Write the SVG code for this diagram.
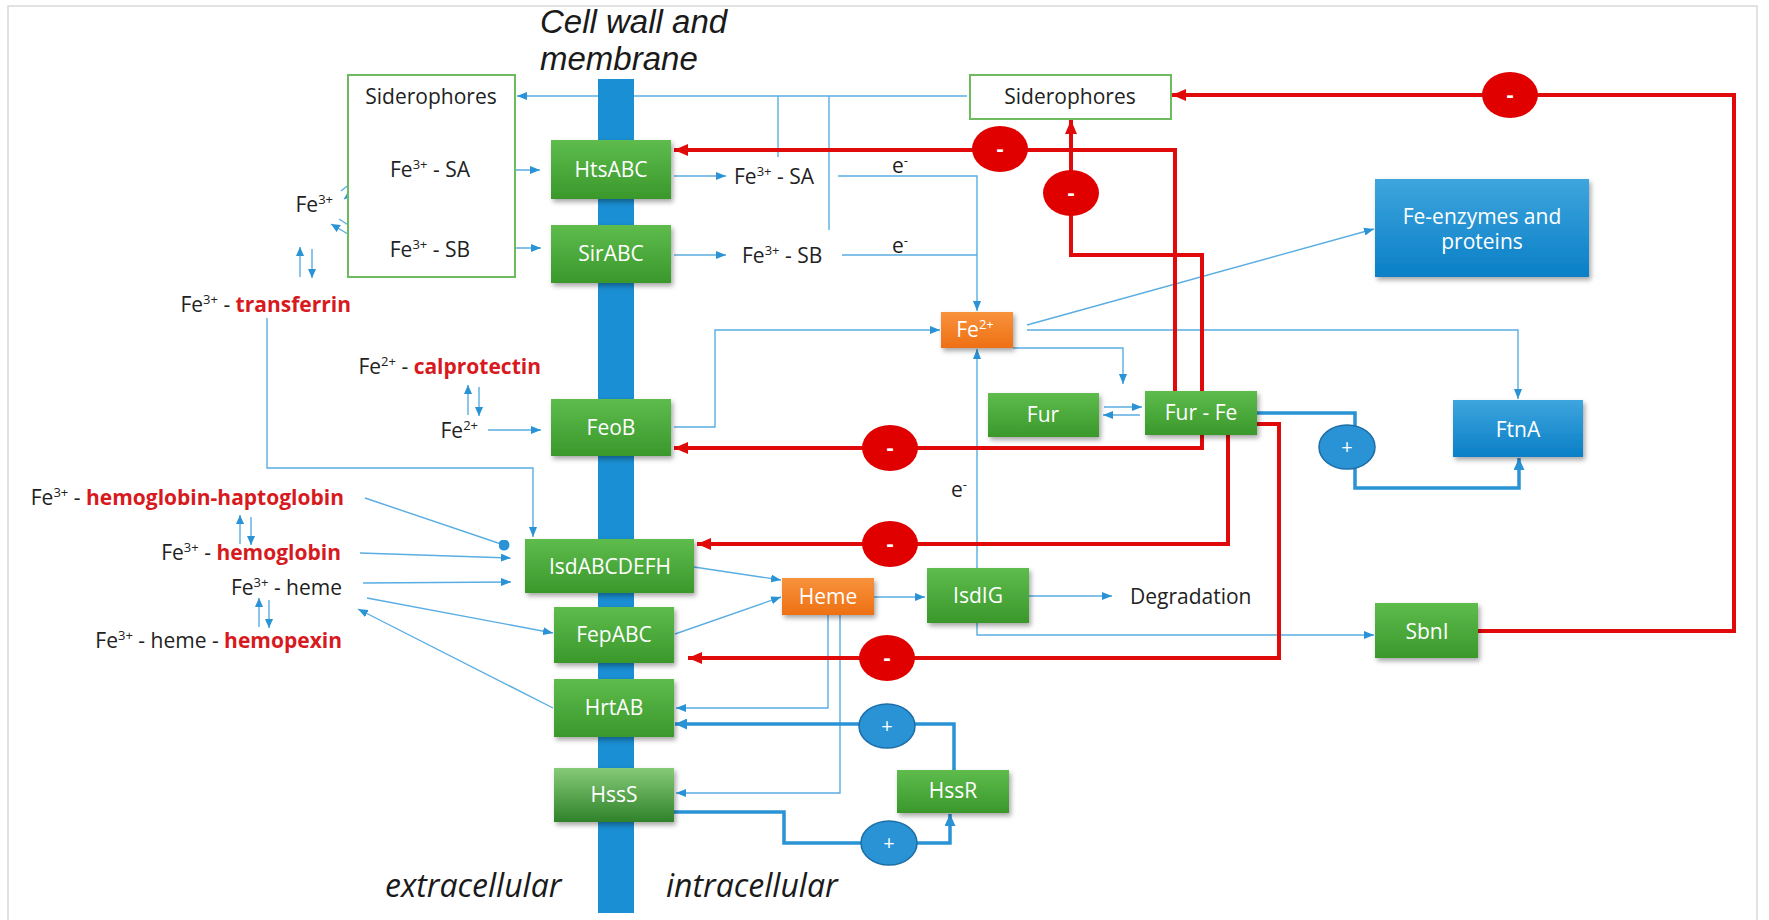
<svg xmlns="http://www.w3.org/2000/svg" width="1769" height="920" viewBox="0 0 1769 920">
<defs>
<style>
.t{font-family:"Open Sans","Liberation Sans",sans-serif;font-size:21px;fill:#222}
.r{fill:#D71920;font-weight:bold}
.w{fill:#fff;text-anchor:middle}
.e{text-anchor:end}
.m{text-anchor:middle}
.it{font-family:"Open Sans","Liberation Sans",sans-serif;font-style:italic;font-size:32px;fill:#1a1a1a}
.ti{font-family:"Liberation Sans",Arial,sans-serif;font-style:italic;font-size:33px;fill:#1a1a1a}
.thin{fill:none;stroke:#5AADE2;stroke-width:1.4}
.red{fill:none;stroke:#E00A0A;stroke-width:4}
.thick{fill:none;stroke:#2A93D5;stroke-width:3.5}
.minus{fill:#E00000}
.plus{fill:#2A93D5;stroke:#1C6EA6;stroke-width:1.5}
.sid{fill:#fff;stroke:#6DBB5E;stroke-width:2}
.sg{font-family:"Open Sans","Liberation Sans",sans-serif;font-size:22px;fill:#fff;text-anchor:middle;font-weight:bold}
</style>
<linearGradient id="gG" x1="0" y1="0" x2="0" y2="1"><stop offset="0" stop-color="#5EBC4D"/><stop offset="1" stop-color="#3A982B"/></linearGradient>
<linearGradient id="gGL" x1="0" y1="0" x2="0" y2="1"><stop offset="0" stop-color="#86CA78"/><stop offset="1" stop-color="#2F822A"/></linearGradient>
<linearGradient id="gO" x1="0" y1="0" x2="0" y2="1"><stop offset="0" stop-color="#F8923C"/><stop offset="1" stop-color="#EE7014"/></linearGradient>
<linearGradient id="gB" x1="0" y1="0" x2="0" y2="1"><stop offset="0" stop-color="#3EA5DE"/><stop offset="1" stop-color="#0A7FC6"/></linearGradient>
<filter id="sh" x="-10%" y="-10%" width="130%" height="140%"><feDropShadow dx="2" dy="3" stdDeviation="2.5" flood-color="#000" flood-opacity="0.35"/></filter>
<marker id="ab" viewBox="0 0 10 8" refX="10" refY="4" markerWidth="10" markerHeight="8" orient="auto" markerUnits="userSpaceOnUse"><path d="M0,0L10,4L0,8z" fill="#2A93D5"/></marker>
<marker id="abs" viewBox="0 0 10 9" refX="10" refY="4.5" markerWidth="9" markerHeight="9" orient="auto" markerUnits="userSpaceOnUse"><path d="M0,0L10,4.5L0,9z" fill="#2A93D5"/></marker>
<marker id="at" viewBox="0 0 12 11" refX="12" refY="5.5" markerWidth="12" markerHeight="11" orient="auto" markerUnits="userSpaceOnUse"><path d="M0,0L12,5.5L0,11z" fill="#2A93D5"/></marker>
<marker id="ar" viewBox="0 0 14 12" refX="14" refY="6" markerWidth="14" markerHeight="12" orient="auto" markerUnits="userSpaceOnUse"><path d="M0,0L14,6L0,12z" fill="#E00A0A"/></marker>
<marker id="dot" viewBox="0 0 10 10" refX="5" refY="5" markerWidth="11" markerHeight="11" markerUnits="userSpaceOnUse"><circle cx="5" cy="5" r="5" fill="#2A93D5"/></marker>
</defs>

<rect x="8" y="6" width="1749" height="940" fill="#fff" stroke="#D9D9D9" stroke-width="1.5"/>

<g id="membrane">
<rect x="598" y="79" width="36" height="834" fill="#1A8FD3"/>
<text class="ti" x="540" y="33">Cell wall and</text>
<text class="ti" x="540" y="70">membrane</text>
<text class="it" x="385" y="897">extracellular</text>
<text class="it" x="666" y="897">intracellular</text>
</g>

<g id="connectors">
<g class="thin">
<path d="M967,96H634"/>
<path d="M598,96H517" marker-end="url(#ab)"/>
<path d="M778,157V96M829,230V96"/>
<path d="M485,170H540" marker-end="url(#ab)"/>
<path d="M488,248H541" marker-end="url(#ab)"/>
<path d="M674,176H726" marker-end="url(#ab)"/>
<path d="M674,255H726" marker-end="url(#ab)"/>
<path d="M838,176H977V311" marker-end="url(#ab)"/>
<path d="M842,255H977"/>
<path d="M674,427H715V330H940" marker-end="url(#ab)"/>
<path d="M1027,330H1518V399" marker-end="url(#ab)"/>
<path d="M1027,325L1374,229" marker-end="url(#ab)"/>
<path d="M1013,348H1123V384" marker-end="url(#ab)"/>
<path d="M1104,407H1142" marker-end="url(#ab)"/>
<path d="M1140,415H1103" marker-end="url(#ab)"/>
<path d="M977,568V349" marker-end="url(#ab)"/>
<path d="M977,623V635H1374" marker-end="url(#ab)"/>
<path d="M874,597H925" marker-end="url(#ab)"/>
<path d="M1029,596H1112" marker-end="url(#ab)"/>
<path d="M694,567L781,580" marker-end="url(#ab)"/>
<path d="M675,634L781,597" marker-end="url(#ab)"/>
<path d="M828,615V708H676" marker-end="url(#ab)"/>
<path d="M840,615V793H676" marker-end="url(#ab)"/>
<path d="M267,318V468H533V537" marker-end="url(#ab)"/>
<path d="M488,430H541" marker-end="url(#ab)"/>
<path d="M365,498L504,545" marker-end="url(#dot)"/>
<path d="M360,553L511,558" marker-end="url(#ab)"/>
<path d="M363,583L511,582" marker-end="url(#ab)"/>
<path d="M367,598L553,633" marker-end="url(#ab)"/>
<path d="M553,708L358,609" marker-end="url(#ab)"/>
<path d="M341,191L366,171" marker-end="url(#abs)"/>
<path d="M369,180L344,199" marker-end="url(#abs)"/>
<path d="M358,240L331,224" marker-end="url(#abs)"/>
<path d="M339,219L367,237" marker-end="url(#abs)"/>
<path d="M300,277V247" marker-end="url(#abs)"/>
<path d="M312,249V278" marker-end="url(#abs)"/>
<path d="M468,415V385" marker-end="url(#abs)"/>
<path d="M479,387V416" marker-end="url(#abs)"/>
<path d="M240,544V515" marker-end="url(#abs)"/>
<path d="M251,517V545" marker-end="url(#abs)"/>
<path d="M259,627V598" marker-end="url(#abs)"/>
<path d="M269,600V628" marker-end="url(#abs)"/>
</g>
<g class="red">
<path d="M1175,391V150H674" marker-end="url(#ar)"/>
<path d="M1202,391V255H1071V120" marker-end="url(#ar)"/>
<path d="M1202,435V448H674" marker-end="url(#ar)"/>
<path d="M1228,435V544H697" marker-end="url(#ar)"/>
<path d="M1257,424H1279V658H688" marker-end="url(#ar)"/>
<path d="M1478,631H1734V95H1172" marker-end="url(#ar)"/>
</g>
<g class="thick">
<path d="M1257,413H1355V488H1519V458" marker-end="url(#at)"/>
<path d="M954,770V724H675" marker-end="url(#at)"/>
<path d="M674,812H784V843H950V814" marker-end="url(#at)"/>
</g>
</g>

<g id="regulators">
<g id="inh1"><ellipse class="minus" cx="1000" cy="149" rx="28" ry="23"/><text class="sg" x="1000" y="156">-</text></g>
<g id="inh2"><ellipse class="minus" cx="1071" cy="193" rx="28" ry="23"/><text class="sg" x="1071" y="200">-</text></g>
<g id="inh3"><ellipse class="minus" cx="890" cy="448" rx="28" ry="23"/><text class="sg" x="890" y="455">-</text></g>
<g id="inh4"><ellipse class="minus" cx="890" cy="544" rx="28" ry="23"/><text class="sg" x="890" y="551">-</text></g>
<g id="inh5"><ellipse class="minus" cx="887" cy="658" rx="28" ry="23"/><text class="sg" x="887" y="665">-</text></g>
<g id="inh6"><ellipse class="minus" cx="1510" cy="95" rx="28" ry="23"/><text class="sg" x="1510" y="102">-</text></g>
<g id="act1"><ellipse class="plus" cx="1347" cy="447" rx="28" ry="22"/><text class="sg" x="1347" y="454" style="font-weight:normal;font-size:20px">+</text></g>
<g id="act2"><ellipse class="plus" cx="887" cy="726" rx="28" ry="22"/><text class="sg" x="887" y="733" style="font-weight:normal;font-size:20px">+</text></g>
<g id="act3"><ellipse class="plus" cx="889" cy="843" rx="28" ry="22"/><text class="sg" x="889" y="850" style="font-weight:normal;font-size:20px">+</text></g>
</g>

<g id="siderophores-out">
<rect class="sid" x="348" y="75" width="167" height="202"/>
<text class="t m" x="431" y="104">Siderophores</text>
</g>
<g id="siderophores-in">
<rect class="sid" x="970" y="75" width="201" height="44"/>
<text class="t m" x="1070" y="104">Siderophores</text>
</g>

<g id="HtsABC"><rect x="551" y="140" width="120" height="59" fill="url(#gG)" filter="url(#sh)"/><text class="t w" x="611" y="177">HtsABC</text></g>
<g id="SirABC"><rect x="551" y="225" width="120" height="58" fill="url(#gG)" filter="url(#sh)"/><text class="t w" x="611" y="261">SirABC</text></g>
<g id="FeoB"><rect x="551" y="399" width="120" height="57" fill="url(#gG)" filter="url(#sh)"/><text class="t w" x="611" y="435">FeoB</text></g>
<g id="IsdABCDEFH"><rect x="525" y="539" width="169" height="54" fill="url(#gG)" filter="url(#sh)"/><text class="t w" x="610" y="574">IsdABCDEFH</text></g>
<g id="FepABC"><rect x="554" y="607" width="120" height="56" fill="url(#gG)" filter="url(#sh)"/><text class="t w" x="614" y="642">FepABC</text></g>
<g id="HrtAB"><rect x="554" y="679" width="120" height="58" fill="url(#gG)" filter="url(#sh)"/><text class="t w" x="614" y="715">HrtAB</text></g>
<g id="HssS"><rect x="554" y="768" width="120" height="54" fill="url(#gGL)" filter="url(#sh)"/><text class="t w" x="614" y="802">HssS</text></g>
<g id="Fur"><rect x="988" y="393" width="111" height="44" fill="url(#gG)" filter="url(#sh)"/><text class="t w" x="1043" y="422">Fur</text></g>
<g id="FurFe"><rect x="1145" y="391" width="112" height="44" fill="url(#gG)" filter="url(#sh)"/><text class="t w" x="1201" y="420">Fur - Fe</text></g>
<g id="IsdIG"><rect x="927" y="568" width="102" height="55" fill="url(#gG)" filter="url(#sh)"/><text class="t w" x="978" y="603">IsdIG</text></g>
<g id="HssR"><rect x="897" y="770" width="112" height="43" fill="url(#gG)" filter="url(#sh)"/><text class="t w" x="953" y="798">HssR</text></g>
<g id="SbnI"><rect x="1375" y="603" width="103" height="55" fill="url(#gG)" filter="url(#sh)"/><text class="t w" x="1427" y="639">SbnI</text></g>
<g id="Fe2plus"><rect x="941" y="312" width="72" height="36" fill="url(#gO)" filter="url(#sh)"/><text class="t w" x="975" y="337">Fe<tspan dy="-8" font-size="13">2+</tspan></text></g>
<g id="Heme"><rect x="782" y="578" width="92" height="37" fill="url(#gO)" filter="url(#sh)"/><text class="t w" x="828" y="604">Heme</text></g>
<g id="FeEnzymes"><rect x="1375" y="179" width="214" height="98" fill="url(#gB)" filter="url(#sh)"/><text class="t w" x="1482" y="224">Fe-enzymes and</text><text class="t w" x="1482" y="249">proteins</text></g>
<g id="FtnA"><rect x="1453" y="400" width="130" height="57" fill="url(#gB)" filter="url(#sh)"/><text class="t w" x="1518" y="437">FtnA</text></g>

<g id="labels">
<text class="t e" x="470" y="177">Fe<tspan dy="-8" font-size="13">3+</tspan><tspan dy="8"> - SA</tspan></text>
<text class="t e" x="470" y="257">Fe<tspan dy="-8" font-size="13">3+</tspan><tspan dy="8"> - SB</tspan></text>
<text class="t e" x="333" y="212">Fe<tspan dy="-8" font-size="13">3+</tspan></text>
<text class="t e" x="351" y="312">Fe<tspan dy="-8" font-size="13">3+</tspan><tspan dy="8"> - </tspan><tspan class="r">transferrin</tspan></text>
<text class="t e" x="541" y="374">Fe<tspan dy="-8" font-size="13">2+</tspan><tspan dy="8"> - </tspan><tspan class="r">calprotectin</tspan></text>
<text class="t e" x="478" y="438">Fe<tspan dy="-8" font-size="13">2+</tspan></text>
<text class="t e" x="344" y="505">Fe<tspan dy="-8" font-size="13">3+</tspan><tspan dy="8"> - </tspan><tspan class="r">hemoglobin-haptoglobin</tspan></text>
<text class="t e" x="341" y="560">Fe<tspan dy="-8" font-size="13">3+</tspan><tspan dy="8"> - </tspan><tspan class="r">hemoglobin</tspan></text>
<text class="t e" x="342" y="595">Fe<tspan dy="-8" font-size="13">3+</tspan><tspan dy="8"> - heme</tspan></text>
<text class="t e" x="342" y="648">Fe<tspan dy="-8" font-size="13">3+</tspan><tspan dy="8"> - heme - </tspan><tspan class="r">hemopexin</tspan></text>
<text class="t" x="734" y="184">Fe<tspan dy="-8" font-size="13">3+</tspan><tspan dy="8"> - SA</tspan></text>
<text class="t" x="742" y="263">Fe<tspan dy="-8" font-size="13">3+</tspan><tspan dy="8"> - SB</tspan></text>
<text class="t" x="892" y="173">e<tspan dy="-8" font-size="13">-</tspan></text>
<text class="t" x="892" y="253">e<tspan dy="-8" font-size="13">-</tspan></text>
<text class="t" x="951" y="497">e<tspan dy="-8" font-size="13">-</tspan></text>
<text class="t" x="1130" y="604">Degradation</text>
</g>
</svg>
